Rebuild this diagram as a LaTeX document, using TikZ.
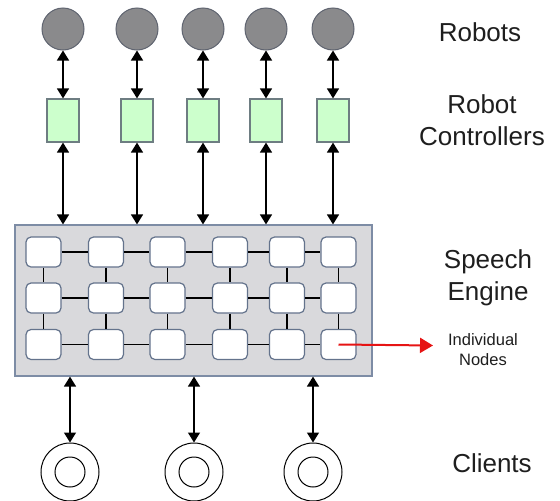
\documentclass[tikz,border=0pt]{standalone}
\usepackage{fontspec}
\setmainfont{Liberation Sans}
\usetikzlibrary{arrows.meta}
\definecolor{robotfill}{RGB}{138,138,140}
\definecolor{robotdraw}{RGB}{95,100,112}
\definecolor{ctrlfill}{RGB}{204,255,204}
\definecolor{ctrldraw}{RGB}{110,125,130}
\definecolor{engfill}{RGB}{217,217,220}
\definecolor{engdraw}{RGB}{125,140,165}
\definecolor{celldraw}{RGB}{100,115,140}
\definecolor{txt}{RGB}{30,30,30}
\definecolor{redarrow}{RGB}{230,20,20}
\tikzset{
  robot/.style={circle,draw=robotdraw,fill=robotfill,line width=1pt,minimum size=42pt,inner sep=0pt},
  ctrl/.style={rectangle,draw=ctrldraw,fill=ctrlfill,line width=1.2pt,minimum width=32pt,minimum height=43pt,inner sep=0pt},
  engine/.style={rectangle,draw=engdraw,fill=engfill,line width=1.2pt,inner sep=0pt},
  cell/.style={rectangle,rounded corners=5pt,draw=celldraw,fill=white,line width=1.2pt,minimum width=35pt,minimum height=30pt,inner sep=0pt},
  client/.style={circle,draw=black,line width=1pt,minimum size=58pt,inner sep=0pt},
  clientin/.style={circle,draw=black,line width=1pt,minimum size=30pt,inner sep=0pt},
  link/.style={draw=black,line width=1.5pt,{Triangle[width=12pt,length=10pt]}-{Triangle[width=12pt,length=10pt]}},
  gridline/.style={draw=black,line width=1.2pt},
  label/.style={text=txt,font=\fontsize{26}{32}\selectfont,align=center,inner sep=0pt},
  smalllabel/.style={text=txt,font=\fontsize{16.5}{20}\selectfont,align=center,inner sep=0pt}
}
\begin{document}
\begin{tikzpicture}[x=1pt,y=-1pt]
\useasboundingbox (0,0) rectangle (560,501);
% engine
\node[engine,minimum width=357pt,minimum height=151pt] (eng) at (193.5,300.5) {};
% robots and controllers
\foreach \i/\x in {1/63,2/137,3/203,4/266,5/333}{
  \node[robot] (r\i) at (\x,29) {};
  \node[ctrl] (c\i) at (\x,120.5) {};
  \draw[link] (r\i.south) -- (c\i.north);
  \draw[link] (c\i.south) -- (c\i.south |- eng.north);
}
% grid cells
\foreach \c/\x in {1/43.5,2/106,3/167.5,4/230,5/287,6/338.5}{
  \foreach \r/\y in {1/252,2/298,3/344.5}{
    \node[cell] (n\r\c) at (\x,\y) {};
  }
}
\foreach \r in {1,2,3}{
  \foreach \c [evaluate=\c as \cn using int(\c+1)] in {1,...,5}{
    \draw[gridline] (n\r\c.east) -- (n\r\cn.west);
  }
}
\foreach \c in {1,...,6}{
  \draw[gridline] (n1\c.south) -- (n2\c.north);
  \draw[gridline] (n2\c.south) -- (n3\c.north);
}
% clients
\foreach \i/\x in {1/70,2/194,3/313}{
  \node[client] (cl\i) at (\x,472) {};
  \node[clientin] (ci\i) at (\x,472) {};
  \draw[link] (cl\i.north |- eng.south) -- (cl\i.north);
}
% red arrow
\coordinate (redtip) at (433,345.5);
\draw[draw=redarrow,line width=2pt,-{Triangle[width=15pt,length=13pt]}] (n36.center) -- (redtip);
% labels
\node[label] (lrob) at (480,32) {Robots};
\node[label] (lctrl) at (482,120) {Robot\\Controllers};
\node[label] (leng) at (488,278) {Speech\\Engine};
\node[smalllabel] (lind) at (483,350) {Individual\\Nodes};
\node[label] (lcli) at (492,463) {Clients};
\end{tikzpicture}
\end{document}
